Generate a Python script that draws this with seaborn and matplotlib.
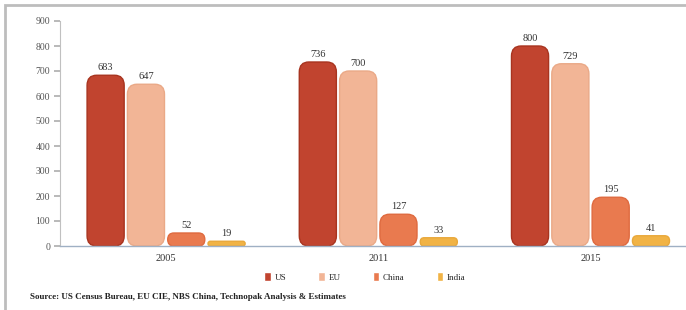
import numpy as np
import pandas as pd
import matplotlib
matplotlib.use("Agg")
import matplotlib.pyplot as plt
from matplotlib.patches import FancyBboxPatch, Rectangle
import seaborn as sns

years = ["2005", "2011", "2015"]
regions = ["US", "EU", "China", "India"]
us = [683, 736, 800]
eu = [647, 700, 729]
china = [52, 127, 195]
india = [19, 33, 41]
yticks = [0, 100, 200, 300, 400, 500, 600, 700, 800, 900]
source = "Source: US Census Bureau, EU CIE, NBS China, Technopak Analysis & Estimates"

colors = ["#c1442f", "#f2b596", "#e97a4f", "#f1b345"]
edges = ["#a8341f", "#eaa987", "#df6a3f", "#e9a83a"]

rows = []
for reg, vals in zip(regions, [us, eu, china, india]):
    for y, v in zip(years, vals):
        rows.append({"Year": y, "Region": reg, "Value": v})
df = pd.DataFrame(rows)

sns.set_theme(style="white")
plt.rcParams["font.family"] = ["Liberation Serif", "DejaVu Serif"]

fig = plt.figure(figsize=(6.86, 3.10), dpi=100)
ax = fig.add_axes([60/686, (310-246)/310, (686-60)/686, (246-21)/310])

sns.barplot(data=df, x="Year", y="Value", hue="Region", order=years,
            hue_order=regions, palette=colors, width=0.76, gap=0.08,
            saturation=1, ax=ax)

# value labels
for cont in ax.containers:
    ax.bar_label(cont, padding=2, fontsize=7.5, color="#333333")

# replace bars with rounded bars
aspect = 900.0
bars = [p for p in list(ax.patches) if p.get_width() > 0]
for p in bars:
    x, y0 = p.get_x(), p.get_y()
    w, h = p.get_width(), p.get_height()
    fc = p.get_facecolor()
    idx = None
    for i, c in enumerate(colors):
        if np.allclose(matplotlib.colors.to_rgba(c), fc, atol=0.01):
            idx = i
    r = min(0.045, w / 2, h / aspect / 2)
    fb = FancyBboxPatch((x, y0), w, h,
                        boxstyle=f"round,pad=0,rounding_size={r}",
                        mutation_aspect=aspect, facecolor=fc,
                        edgecolor=edges[idx] if idx is not None else fc,
                        linewidth=1.0, zorder=2)
    p.remove()
    ax.add_patch(fb)

ax.set_xlim(-0.5, 2.45)
ax.set_ylim(0, 900)
ax.set_yticks(yticks)
ax.set_yticklabels([str(t) for t in yticks], fontsize=7, color="#555555")
ax.set_xticks(range(3))
ax.set_xticklabels(years, fontsize=7.5, color="#333333")
ax.tick_params(axis="x", which="major", length=0, pad=6)
ax.set_xticks([0.5, 1.5], minor=True)
ax.tick_params(axis="x", which="minor", length=4, color="#9aa8b8", direction="out")
ax.tick_params(axis="y", length=4, color="#b0b0b0", direction="out", left=True, pad=3)
ax.set_xlabel("")
ax.set_ylabel("")
for s in ["top", "right"]:
    ax.spines[s].set_visible(False)
ax.spines["left"].set_color("#c0c0c0")
ax.spines["left"].set_linewidth(0.8)
ax.spines["bottom"].set_color("#9fb0c4")
ax.spines["bottom"].set_linewidth(1.0)

sns.move_legend(ax, "center", bbox_to_anchor=(365/686, 1 - 277/310),
                bbox_transform=fig.transFigure, ncol=4, frameon=False,
                title=None, fontsize=6.5, handlelength=0.7, handleheight=1.0,
                columnspacing=3.6, handletextpad=0.4)

fig.text(30/686, 1 - 297/310, source, fontsize=6.5, color="#222222",
         fontweight="bold", va="center", ha="left")

# outer frame
fig.patches.append(Rectangle((5/686, -0.1), 1.2, 1 - 5/310 + 0.1,
                             transform=fig.transFigure, fill=False,
                             edgecolor="#bdbdbd", linewidth=2.0))

fig.savefig("out.png", dpi=100)
